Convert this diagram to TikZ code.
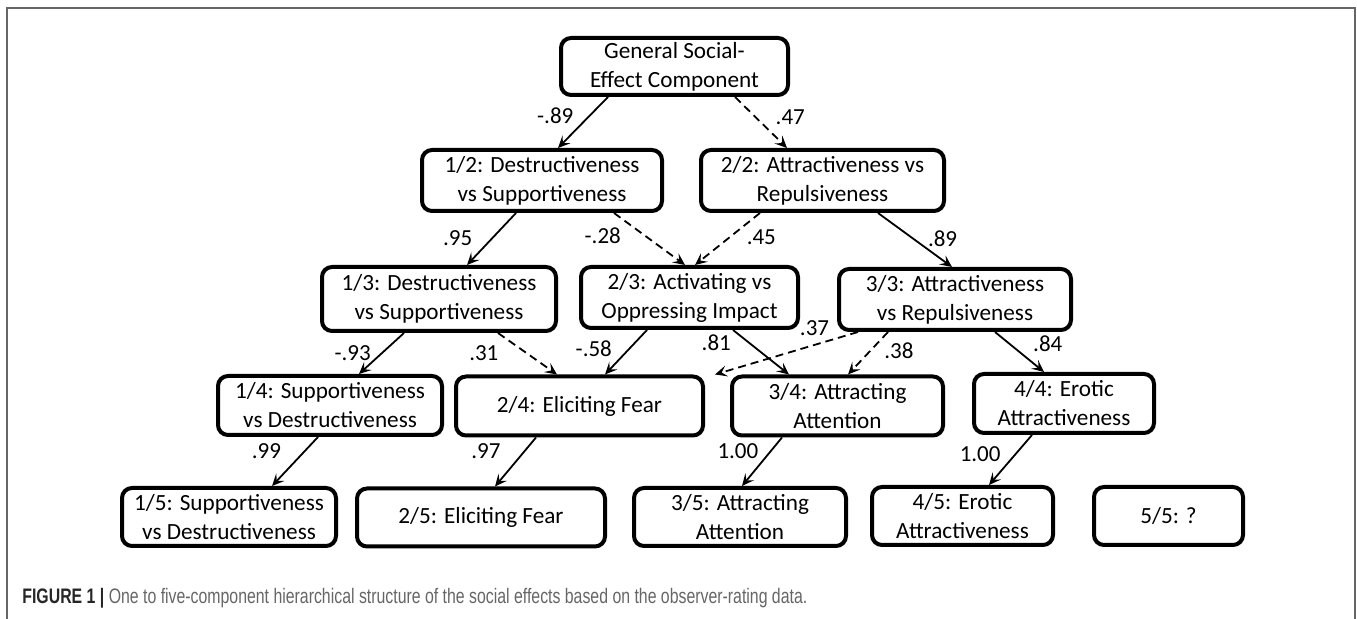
\documentclass[tikz,border=0pt]{standalone}
\usepackage{fontspec}
\setmainfont{Carlito}
\newfontfamily\capfont[FakeStretch=0.755]{Liberation Sans}
\usetikzlibrary{arrows.meta}

\begin{document}
\begin{tikzpicture}[x=0.5pt,y=-0.5pt,
   factor/.style={draw,line width=2pt,rounded corners=5pt,align=center,inner sep=1pt,
      minimum height=29.5pt,font=\fontsize{11.6}{14.5}\selectfont},
   load/.style={line width=0.9pt,-{Stealth[length=6pt,width=5.5pt,inset=2.5pt]}},
   weak/.style={load,dash pattern=on 4pt off 2.5pt},
   coef/.style={inner sep=1pt,font=\fontsize{11.5}{13}\selectfont}]
\useasboundingbox (0,0) rectangle (1357,619);
\draw[black!60,line width=1pt] (7,619) -- (7,8) -- (1355,8) -- (1355,619);

\node[factor,minimum width=113.5pt,minimum height=28.5pt] (g) at (674.5,66.5) {General Social-\\Effect Component};
\node[factor,minimum width=120pt,minimum height=30.5pt] (d12) at (542,180.5) {1/2: Destructiveness\\vs Supportiveness};
\node[factor,minimum width=121.5pt,minimum height=30.5pt] (a22) at (822.5,180.5) {2/2: Attractiveness vs\\Repulsiveness};
\node[factor,minimum width=117pt,minimum height=32pt] (d13) at (439,299) {1/3: Destructiveness\\vs Supportiveness};
\node[factor,minimum width=108.5pt,minimum height=30.5pt] (o23) at (689.5,297.5) {2/3: Activating vs\\Oppressing Impact};
\node[factor,minimum width=116pt,minimum height=30.5pt] (a33) at (955,299.5) {3/3: Attractiveness\\vs Repulsiveness};
\node[factor,minimum width=112pt] (s14) at (330,405.5) {1/4: Supportiveness\\vs Destructiveness};
\node[factor,minimum width=123.5pt] (f24) at (579.5,406) {2/4: Eliciting Fear};
\node[factor,minimum width=105.5pt] (a34) at (837.5,406) {3/4: Attracting\\Attention};
\node[factor,minimum width=90pt] (e44) at (1064,403.5) {4/4: Erotic\\Attractiveness};
\node[factor,minimum width=107pt,minimum height=29pt] (s15) at (229,517) {1/5: Supportiveness\\vs Destructiveness};
\node[factor,minimum width=124pt,minimum height=29pt] (f25) at (481,517.5) {2/5: Eliciting Fear};
\node[factor,minimum width=106pt,minimum height=29pt] (a35) at (740,517) {3/5: Attracting\\Attention};
\node[factor,minimum width=90.5pt,minimum height=29pt] (e45) at (962.5,516) {4/5: Erotic\\Attractiveness};
\node[factor,minimum width=74.5pt,minimum height=29pt] (q55) at (1168.5,516) {5/5: ?};

\draw[load] ([xshift=-33.25pt]g.south) -- node[coef,pos=.375,left=6.5pt] {-.89} ([xshift=8pt]d12.north);
\draw[weak] ([xshift=30.25pt]g.south) -- node[coef,pos=.4,right=8.5pt] {.47} ([xshift=-17.75pt]a22.north);
\draw[load] ([xshift=-13pt]d12.south) -- node[coef,pos=.48,left=8.7pt] {.95} ([xshift=14pt]d13.north);
\draw[weak] ([xshift=36pt]d12.south) -- node[coef,pos=.43,left=10.4pt] {-.28} ([xshift=-2.25pt]o23.north);
\draw[weak] ([xshift=-31.25pt]a22.south) -- node[coef,pos=.47,right=7.2pt] {.45} ([xshift=2.75pt]o23.north);
\draw[load] ([xshift=27.75pt]a22.south) -- node[coef,pos=.48,right=5.8pt] {.89} ([xshift=-1.5pt]a33.north);
\draw[load] ([xshift=-17.5pt]d13.south) -- node[coef,pos=.48,left=4.4pt] {-.93} ([xshift=14.5pt]s14.north);
\draw[weak] ([xshift=29.5pt]d13.south) -- node[coef,pos=.49,left=12.8pt] {.31} ([xshift=-11.25pt]f24.north);
\draw[load] ([xshift=-21.25pt]o23.south) -- node[coef,pos=.41,left=7.5pt] {-.58} ([xshift=12.75pt]f24.north);
\draw[load] ([xshift=21.75pt]o23.south) -- node[coef,pos=.285,left=7.6pt] {.81} ([xshift=-24.25pt]a34.north);
\draw[weak] ([xshift=-48.5pt]a33.south) -- node[coef,pos=0,left=13pt,yshift=2pt] {.37} ([xshift=5pt]f24.north east);
\draw[weak] ([xshift=-33.5pt]a33.south) -- node[coef,pos=.44,right=5.5pt] {.38} ([xshift=5.25pt]a34.north);
\draw[load] ([xshift=20pt]a33.south) -- node[coef,pos=.3,right=10.3pt] {.84} ([xshift=-10pt]e44.north);
\draw[load] ([xshift=-6pt]s14.south) -- node[coef,pos=.29,left=10.4pt] {.99} ([xshift=21.5pt]s15.north);
\draw[load] ([xshift=-21.75pt]f24.south) -- node[coef,pos=.28,left=10.6pt] {.97} ([xshift=7pt]f25.north);
\draw[load] ([xshift=-27.75pt]a34.south) -- node[coef,pos=.29,left=4.6pt] {1.00} ([xshift=1pt]a35.north);
\draw[load] ([xshift=-16pt]e44.south) -- node[coef,pos=.385,left=6pt] {1.00} ([xshift=13.25pt]e45.north);

\node[anchor=west,inner sep=0pt,font=\capfont\fontsize{10.5}{12}\selectfont] (cap) at (22,598)
   {\textcolor{black!85}{\bfseries FIGURE 1 |} \textcolor{black!60}{One to five-component hierarchical structure of the social effects based on the observer-rating data.}};
\end{tikzpicture}
\end{document}
